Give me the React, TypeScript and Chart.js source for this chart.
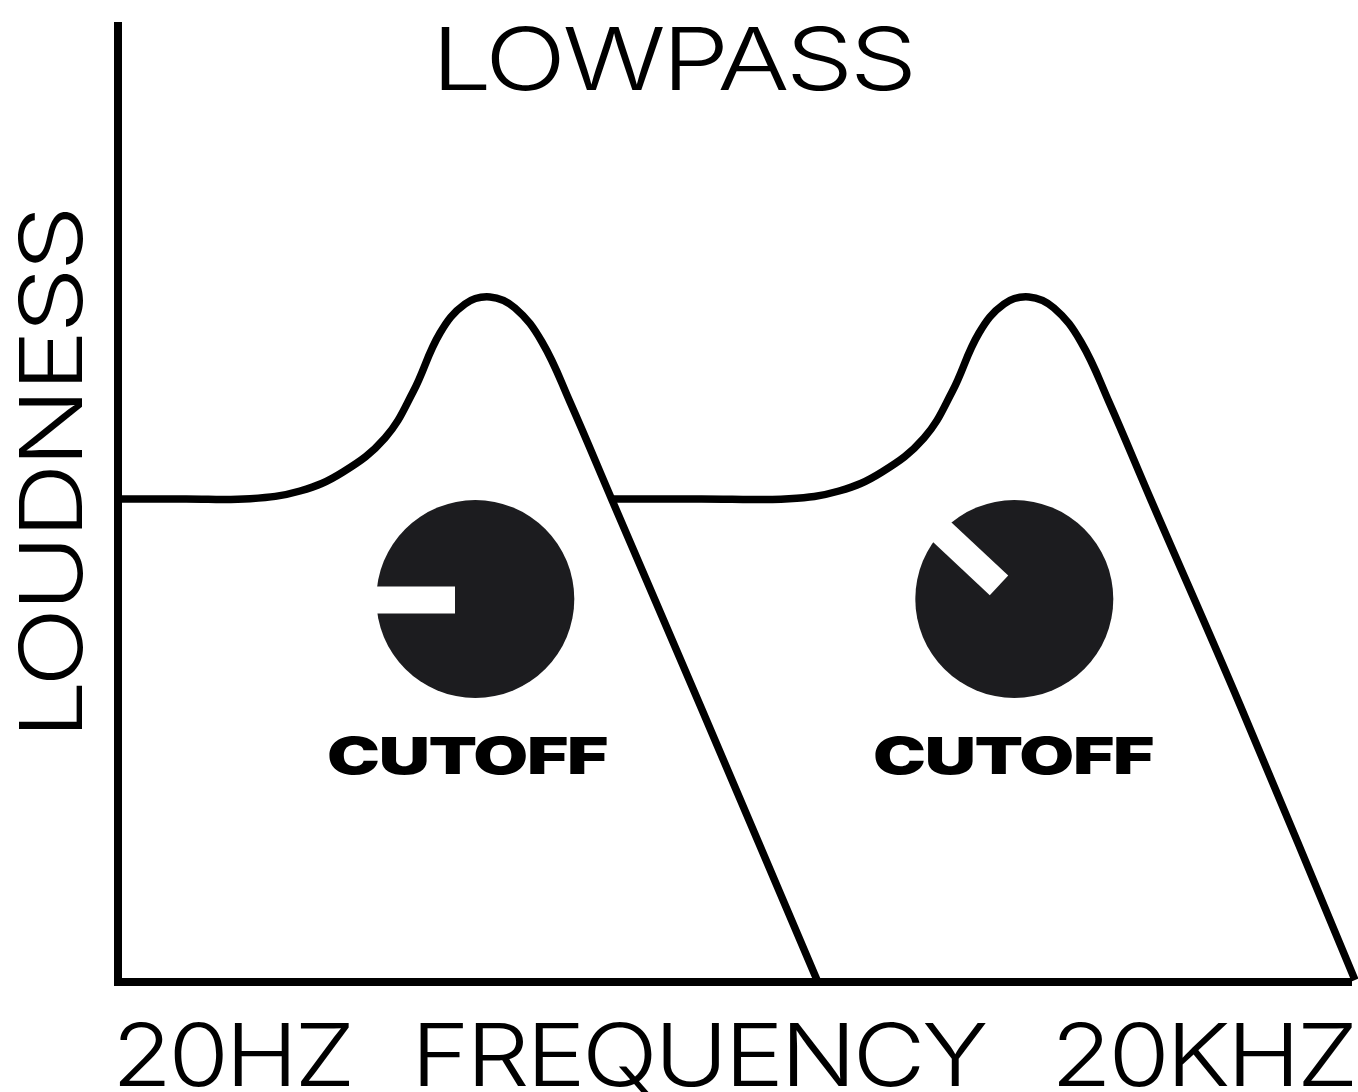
import React, { useEffect, useRef } from "react";
import { Chart, registerables } from "chart.js";

Chart.register(...registerables);

const titleText = "LOWPASS";
const yAxisLabel = "LOUDNESS";
const knobLabel = "CUTOFF";
const tickValues = [114, 580, 1085];
const tickLabels = ["20HZ", "FREQUENCY", "20KHZ"];

const curveAX = [0, 67, 132, 182, 225, 267, 295, 322, 347, 372, 397, 424, 452, 494, 582, 699];
const curveAY = [483, 483, 483.3, 491, 510, 544, 590, 649, 678, 685, 674, 640, 580, 482, 277, 2];
const curveBX = [494, 582, 671, 721, 764, 806, 834, 861, 886, 911, 936, 963, 991, 1033, 1122, 1237];
const curveBY = [483, 483, 483.3, 491, 510, 544, 590, 649, 678, 685, 674, 640, 580, 482, 277, 2];

const knobX = [357.3, 896.3];
const knobY = [383, 383];
const notchAX = [250, 337];
const notchAY = [382, 382];
const notchBX = [809, 881];
const notchBY = [464, 396.7];
const knobLabelX = [349, 895];
const knobLabelY = [208, 208];
const yLabelValue = 508;

// The reference lettering is an extended face: each string is stretched to its measured width.
const textWidths: Record<string, number> = {
  LOWPASS: 482,
  LOUDNESS: 530,
  "20HZ": 240,
  FREQUENCY: 574,
  "20KHZ": 304,
  CUTOFF: 280,
};
const textShift: Record<string, number> = { LOWPASS: -3 };
const lightFont = "Inter";
const zip = (xs: number[], ys: number[]) => xs.map((x, i) => ({ x, y: ys[i] }));

const stretchPlugin = {
  id: "stretchPlugin",
  beforeInit(chart: any) {
    const ctx = chart.ctx;
    const fill = ctx.fillText.bind(ctx);
    ctx.fillText = (text: string, x: number, y: number) => {
      const target = textWidths[text];
      if (!target) return fill(text, x, y);
      ctx.save();
      ctx.letterSpacing = text === knobLabel ? "-1px" : "-3px";
      const k = target / ctx.measureText(text).width;
      ctx.translate(x + (textShift[text] ?? 0), y);
      ctx.scale(k, 1);
      fill(text, 0, 0);
      ctx.restore();
    };
  },
  afterDatasetsDraw(chart: any) {
    const { ctx, scales } = chart;
    ctx.save();
    ctx.fillStyle = "#000";
    ctx.textBaseline = "alphabetic";
    ctx.textAlign = "center";
    ctx.font = `900 51px Inter`;
    knobLabelX.forEach((v, i) => {
      ctx.fillText(knobLabel, scales.x.getPixelForValue(v), scales.y.getPixelForValue(knobLabelY[i]));
    });
    ctx.restore();
    ctx.save();
    ctx.fillStyle = "#000";
    ctx.textAlign = "center";
    ctx.textBaseline = "alphabetic";
    ctx.font = `300 87px ${lightFont}`;
    ctx.translate(82, scales.y.getPixelForValue(yLabelValue));
    ctx.rotate(-Math.PI / 2);
    ctx.fillText(yAxisLabel, 0, 0);
    ctx.restore();
  },
};

export default function App() {
  const ref = useRef<HTMLCanvasElement>(null);
  useEffect(() => {
    const line = (data: any, order: number) => ({
      type: "line",
      data,
      order,
      borderColor: "#000",
      borderWidth: 7.5,
      pointRadius: 0,
      tension: 0.4,
      fill: false,
      clip: false,
    });
    const notch = (data: any) => ({
      type: "line",
      data,
      order: 0,
      borderColor: "#ffffff",
      borderWidth: 27,
      borderCapStyle: "butt",
      pointRadius: 0,
      clip: false,
    });
    const chart = new Chart(ref.current as HTMLCanvasElement, {
      type: "scatter",
      data: {
        datasets: [
          notch(zip(notchAX, notchAY)),
          notch(zip(notchBX, notchBY)),
          {
            type: "scatter",
            data: zip(knobX, knobY),
            order: 1,
            backgroundColor: "#1c1c1f",
            borderWidth: 0,
            pointRadius: 99,
            clip: false,
          },
          line(zip(curveAX, curveAY), 2),
          line(zip(curveBX, curveBY), 2),
        ] as any,
      },
      options: {
        animation: false,
        responsive: false,
        layout: { autoPadding: false, padding: { left: 0, right: 7, top: 0, bottom: 0 } },
        plugins: {
          legend: { display: false },
          tooltip: { enabled: false },
          title: {
            display: true,
            text: titleText,
            color: "#000",
            font: { family: lightFont, weight: "300", size: 87, lineHeight: 1.2 },
            padding: { top: 12, bottom: -90.4 },
          },
        },
        scales: {
          x: {
            type: "linear",
            min: 0,
            max: 1233,
            afterBuildTicks: (s: any) => {
              s.ticks = tickValues.map((value) => ({ value }));
            },
            afterFit: (s: any) => {
              s.height = 110;
              s.paddingLeft = 0;
              s.paddingRight = 0;
              s._margins = { left: 0, right: 0, top: 0, bottom: 0 };
            },
            grid: { display: false, drawTicks: false },
            border: { display: true, color: "#000", width: 8 },
            ticks: {
              autoSkip: false,
              maxRotation: 0,
              minRotation: 0,
              padding: 27,
              color: "#000",
              font: { family: lightFont, weight: "300", size: 86 },
              callback: (v: any) => tickLabels[tickValues.indexOf(Number(v))] ?? "",
            },
          },
          y: {
            type: "linear",
            min: 0,
            max: 956,
            afterFit: (s: any) => {
              s.width = 118;
            },
            grid: { display: false, drawTicks: false },
            border: { display: true, color: "#000", width: 8 },
            ticks: { display: false },
          },
        },
      } as any,
      plugins: [stretchPlugin],
    });
    return () => chart.destroy();
  }, []);
  return (
    <div style={{ position: "absolute", left: 0, top: 0, width: 1358, height: 1092, background: "#fff" }}>
      <canvas ref={ref} width={1358} height={1092} style={{ display: "block" }} />
    </div>
  );
}
